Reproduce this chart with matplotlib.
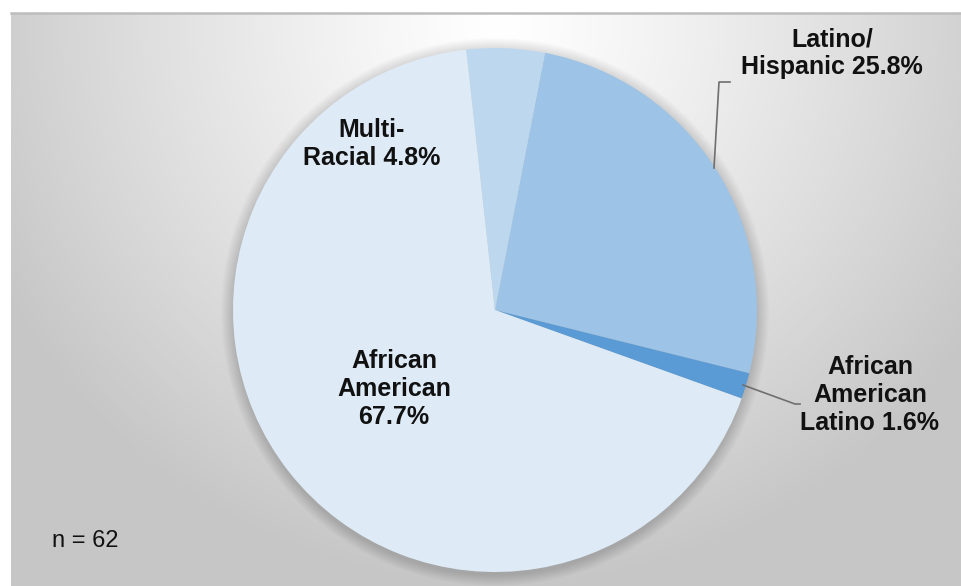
import numpy as np
import matplotlib
matplotlib.use("Agg")
import matplotlib.pyplot as plt
from matplotlib.patches import Circle

# data (share of respondents, clockwise from Latino)
groups = ["Latino/\nHispanic", "African\nAmerican\nLatino", "African\nAmerican", "Multi-\nRacial"]
percents = [25.8, 1.6, 67.7, 4.8]
colors = ["#9dc3e6", "#5b9bd5", "#deebf7", "#bdd7ee"]
sample_note = "n = 62"

W, H = 961, 586
fig = plt.figure(figsize=(W / 100, H / 100), dpi=100)
ax = fig.add_axes([0, 0, 1, 1])

# radial grey background, lightest at top centre
x0, x1, y0, y1 = 11, W, 0, H - 13
gx = np.linspace(x0, x1, 400)
gy = np.linspace(y1, y0, 250)
X, Y = np.meshgrid(gx, gy)
d = np.sqrt(((X - 500) / 560.0) ** 2 + ((Y - y1 + 10) / 560.0) ** 2)
v = 1.0 - 0.22 * np.clip(d, 0, 1) ** 1.2
img = np.dstack([v, v, v])
ax.imshow(img, extent=(x0, x1, y0, y1), zorder=0, aspect="auto")
ax.plot([x0, x1], [y1, y1], color="#bdbdbd", lw=1.8, zorder=1)

cx, cy, r = 495, H - 310, 262

# soft shadow behind the pie
for i in range(12):
    ax.add_patch(Circle((cx, cy - 2), r + 12 - i, color="black", alpha=0.012, lw=0, zorder=1))

ax.pie(percents, colors=colors, startangle=79, counterclock=False,
       center=(cx, cy), radius=r, frame=True,
       wedgeprops=dict(linewidth=0, zorder=2))
ax.set_xlim(0, W)
ax.set_ylim(0, H)
ax.set_aspect("equal")
ax.axis("off")

lab = [f"{g} {p}%" if i != 2 else f"{g}\n{p}%" for i, (g, p) in enumerate(zip(groups, percents))]
txt = dict(ha="center", va="center", fontsize=18, fontweight="bold",
           family="Liberation Sans", color="#111111", linespacing=1.2, zorder=5)
ax.text(832, H - 53, lab[0], **txt)
ax.text(870, H - 395, lab[1], **txt)
ax.text(394, H - 389, lab[2], **txt)
ax.text(372, H - 144, lab[3], **txt)

# leader lines
ax.plot([714, 719, 730], [H - 168, H - 82, H - 82], color="#6f6f6f", lw=1.2, zorder=4)
ax.plot([743, 795, 800], [H - 385, H - 404, H - 404], color="#6f6f6f", lw=1.2, zorder=4)

ax.text(52, H - 541, sample_note, ha="left", va="center", fontsize=17,
        family="Liberation Sans", color="#111111", zorder=5)

fig.savefig("out.png", dpi=100, facecolor="white")
